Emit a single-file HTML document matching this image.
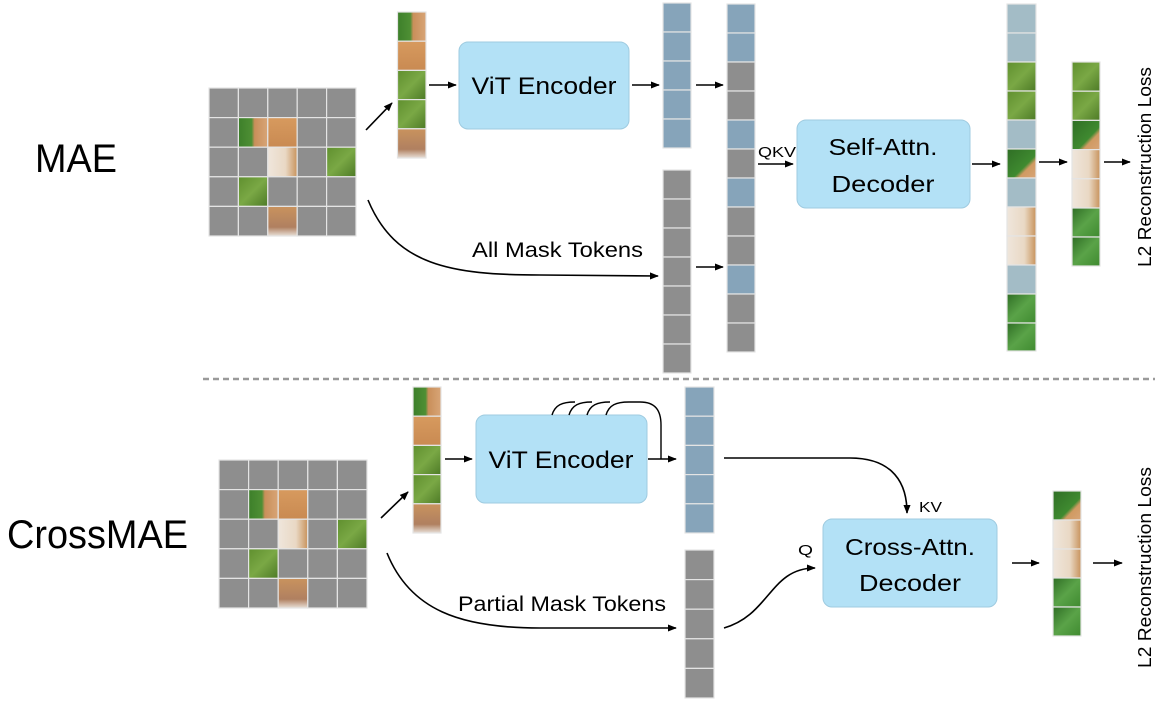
<!DOCTYPE html>
<html><head><meta charset="utf-8"><style>html,body{margin:0;padding:0;background:#fff}svg{display:block}</style></head>
<body>
<svg width="1168" height="711" viewBox="0 0 1168 711" xmlns="http://www.w3.org/2000/svg" font-family="Liberation Sans, sans-serif">
<defs>
<linearGradient id="grass" x1="0" y1="0" x2="1" y2="1"><stop offset="0" stop-color="#5f8f2e"/><stop offset="0.5" stop-color="#7aa845"/><stop offset="1" stop-color="#4d7a26"/></linearGradient>
<linearGradient id="dk" x1="0" y1="0" x2="1" y2="1"><stop offset="0" stop-color="#2f6e25"/><stop offset="0.5" stop-color="#5aa348"/><stop offset="1" stop-color="#3f8a30"/></linearGradient>
<linearGradient id="gc" x1="0" y1="0" x2="1" y2="0"><stop offset="0" stop-color="#3d7f2a"/><stop offset="0.45" stop-color="#4e8f34"/><stop offset="0.55" stop-color="#c98f5a"/><stop offset="1" stop-color="#d8a577"/></linearGradient>
<linearGradient id="cat" x1="0" y1="0" x2="0" y2="1"><stop offset="0" stop-color="#d79a5e"/><stop offset="1" stop-color="#c98a52"/></linearGradient>
<linearGradient id="catw" x1="0" y1="0" x2="1" y2="0"><stop offset="0" stop-color="#efe6dc"/><stop offset="0.6" stop-color="#e9d8c4"/><stop offset="1" stop-color="#c8935c"/></linearGradient>
<linearGradient id="paw" x1="0" y1="0" x2="0" y2="1"><stop offset="0" stop-color="#c9935e"/><stop offset="0.7" stop-color="#b08060"/><stop offset="1" stop-color="#e8e0d8"/></linearGradient>
<linearGradient id="gcd" x1="0" y1="0" x2="1" y2="1"><stop offset="0" stop-color="#2f6e25"/><stop offset="0.6" stop-color="#3f8a30"/><stop offset="0.7" stop-color="#d09a62"/><stop offset="1" stop-color="#d8a577"/></linearGradient>
<marker id="ah" viewBox="0 0 10 10" refX="9" refY="5" markerWidth="9" markerHeight="9" orient="auto-start-reverse" markerUnits="userSpaceOnUse"><path d="M0,1 L10,5 L0,9 z" fill="#000"/></marker>
</defs>
<g stroke="#e4e4e4" stroke-width="1.2">
<g fill="#8e8e8e">
<rect x="209" y="88" width="29.4" height="29.6"/><rect x="238.4" y="88" width="29.4" height="29.6"/><rect x="267.8" y="88" width="29.4" height="29.6"/><rect x="297.2" y="88" width="29.4" height="29.6"/><rect x="326.6" y="88" width="29.4" height="29.6"/>
<rect x="209" y="117.6" width="29.4" height="29.6"/><rect x="238.4" y="117.6" width="29.4" height="29.6" fill="url(#gc)"/><rect x="267.8" y="117.6" width="29.4" height="29.6" fill="url(#cat)"/><rect x="297.2" y="117.6" width="29.4" height="29.6"/><rect x="326.6" y="117.6" width="29.4" height="29.6"/>
<rect x="209" y="147.2" width="29.4" height="29.6"/><rect x="238.4" y="147.2" width="29.4" height="29.6"/><rect x="267.8" y="147.2" width="29.4" height="29.6" fill="url(#catw)"/><rect x="297.2" y="147.2" width="29.4" height="29.6"/><rect x="326.6" y="147.2" width="29.4" height="29.6" fill="url(#grass)"/>
<rect x="209" y="176.8" width="29.4" height="29.6"/><rect x="238.4" y="176.8" width="29.4" height="29.6" fill="url(#grass)"/><rect x="267.8" y="176.8" width="29.4" height="29.6"/><rect x="297.2" y="176.8" width="29.4" height="29.6"/><rect x="326.6" y="176.8" width="29.4" height="29.6"/>
<rect x="209" y="206.4" width="29.4" height="29.6"/><rect x="238.4" y="206.4" width="29.4" height="29.6"/><rect x="267.8" y="206.4" width="29.4" height="29.6" fill="url(#paw)"/><rect x="297.2" y="206.4" width="29.4" height="29.6"/><rect x="326.6" y="206.4" width="29.4" height="29.6"/>
</g>
<rect x="397.5" y="12" width="28.5" height="29.2" fill="url(#gc)"/><rect x="397.5" y="41.2" width="28.5" height="29.2" fill="url(#cat)"/><rect x="397.5" y="70.4" width="28.5" height="29.2" fill="url(#grass)"/><rect x="397.5" y="99.6" width="28.5" height="29.2" fill="url(#grass)"/><rect x="397.5" y="128.8" width="28.5" height="29.2" fill="url(#paw)"/>
<g fill="#86a4ba"><rect x="663" y="3" width="28" height="29"/><rect x="663" y="32" width="28" height="29"/><rect x="663" y="61" width="28" height="29"/><rect x="663" y="90" width="28" height="29"/><rect x="663" y="119" width="28" height="29"/></g>
<g fill="#8e8e8e"><rect x="663" y="170" width="28" height="29"/><rect x="663" y="199" width="28" height="29"/><rect x="663" y="228" width="28" height="29"/><rect x="663" y="257" width="28" height="29"/><rect x="663" y="286" width="28" height="29"/><rect x="663" y="315" width="28" height="29"/><rect x="663" y="344" width="28" height="29"/></g>
<rect x="727" y="4" width="28" height="29" fill="#86a4ba"/><rect x="727" y="33" width="28" height="29" fill="#86a4ba"/><rect x="727" y="62" width="28" height="29" fill="#8e8e8e"/><rect x="727" y="91" width="28" height="29" fill="#8e8e8e"/><rect x="727" y="120" width="28" height="29" fill="#86a4ba"/><rect x="727" y="149" width="28" height="29" fill="#8e8e8e"/><rect x="727" y="178" width="28" height="29" fill="#86a4ba"/><rect x="727" y="207" width="28" height="29" fill="#8e8e8e"/><rect x="727" y="236" width="28" height="29" fill="#8e8e8e"/><rect x="727" y="265" width="28" height="29" fill="#86a4ba"/><rect x="727" y="294" width="28" height="29" fill="#8e8e8e"/><rect x="727" y="323" width="28" height="29" fill="#8e8e8e"/>
<rect x="1007" y="4" width="29" height="29" fill="#a3bcc6"/><rect x="1007" y="33" width="29" height="29" fill="#a3bcc6"/><rect x="1007" y="62" width="29" height="29" fill="url(#grass)"/><rect x="1007" y="91" width="29" height="29" fill="url(#grass)"/><rect x="1007" y="120" width="29" height="29" fill="#a3bcc6"/><rect x="1007" y="149" width="29" height="29" fill="url(#gcd)"/><rect x="1007" y="178" width="29" height="29" fill="#a3bcc6"/><rect x="1007" y="207" width="29" height="29" fill="url(#catw)"/><rect x="1007" y="236" width="29" height="29" fill="url(#catw)"/><rect x="1007" y="265" width="29" height="29" fill="#a3bcc6"/><rect x="1007" y="294" width="29" height="29" fill="url(#dk)"/><rect x="1007" y="323" width="29" height="28" fill="url(#dk)"/>
<rect x="1072" y="62" width="28" height="29.2" fill="url(#grass)"/><rect x="1072" y="91.2" width="28" height="29.2" fill="url(#grass)"/><rect x="1072" y="120.4" width="28" height="29.2" fill="url(#gcd)"/><rect x="1072" y="149.6" width="28" height="29.2" fill="url(#catw)"/><rect x="1072" y="178.8" width="28" height="29.2" fill="url(#catw)"/><rect x="1072" y="208" width="28" height="29" fill="url(#dk)"/><rect x="1072" y="237" width="28" height="29" fill="url(#dk)"/>

<g fill="#8e8e8e">
<rect x="219" y="460" width="29.6" height="29.6"/><rect x="248.6" y="460" width="29.6" height="29.6"/><rect x="278.2" y="460" width="29.6" height="29.6"/><rect x="307.8" y="460" width="29.6" height="29.6"/><rect x="337.4" y="460" width="29.6" height="29.6"/>
<rect x="219" y="489.6" width="29.6" height="29.6"/><rect x="248.6" y="489.6" width="29.6" height="29.6" fill="url(#gc)"/><rect x="278.2" y="489.6" width="29.6" height="29.6" fill="url(#cat)"/><rect x="307.8" y="489.6" width="29.6" height="29.6"/><rect x="337.4" y="489.6" width="29.6" height="29.6"/>
<rect x="219" y="519.2" width="29.6" height="29.6"/><rect x="248.6" y="519.2" width="29.6" height="29.6"/><rect x="278.2" y="519.2" width="29.6" height="29.6" fill="url(#catw)"/><rect x="307.8" y="519.2" width="29.6" height="29.6"/><rect x="337.4" y="519.2" width="29.6" height="29.6" fill="url(#grass)"/>
<rect x="219" y="548.8" width="29.6" height="29.6"/><rect x="248.6" y="548.8" width="29.6" height="29.6" fill="url(#grass)"/><rect x="278.2" y="548.8" width="29.6" height="29.6"/><rect x="307.8" y="548.8" width="29.6" height="29.6"/><rect x="337.4" y="548.8" width="29.6" height="29.6"/>
<rect x="219" y="578.4" width="29.6" height="29.6"/><rect x="248.6" y="578.4" width="29.6" height="29.6"/><rect x="278.2" y="578.4" width="29.6" height="29.6" fill="url(#paw)"/><rect x="307.8" y="578.4" width="29.6" height="29.6"/><rect x="337.4" y="578.4" width="29.6" height="29.6"/>
</g>
<rect x="413" y="387" width="28" height="29.2" fill="url(#gc)"/><rect x="413" y="416.2" width="28" height="29.2" fill="url(#cat)"/><rect x="413" y="445.4" width="28" height="29.2" fill="url(#grass)"/><rect x="413" y="474.6" width="28" height="29.2" fill="url(#grass)"/><rect x="413" y="503.8" width="28" height="29.2" fill="url(#paw)"/>
<g fill="#86a4ba"><rect x="685" y="387" width="29" height="29.2"/><rect x="685" y="416.2" width="29" height="29.2"/><rect x="685" y="445.4" width="29" height="29.2"/><rect x="685" y="474.6" width="29" height="29.2"/><rect x="685" y="503.8" width="29" height="29.2"/></g>
<g fill="#8e8e8e"><rect x="685" y="550" width="29" height="29.6"/><rect x="685" y="579.6" width="29" height="29.6"/><rect x="685" y="609.2" width="29" height="29.6"/><rect x="685" y="638.8" width="29" height="29.6"/><rect x="685" y="668.4" width="29" height="29.6"/></g>
<rect x="1053" y="491" width="28" height="29" fill="url(#gcd)"/><rect x="1053" y="520" width="28" height="29" fill="url(#catw)"/><rect x="1053" y="549" width="28" height="29" fill="url(#catw)"/><rect x="1053" y="578" width="28" height="29" fill="url(#dk)"/><rect x="1053" y="607" width="28" height="29" fill="url(#dk)"/>
</g>

<g fill="#b3e1f6" stroke="#9fcbe0" stroke-width="1">
<rect x="459" y="42" width="170" height="87" rx="9"/>
<rect x="797" y="120" width="173" height="88" rx="9"/>
<rect x="476" y="415" width="171" height="88" rx="9"/>
<rect x="823" y="519" width="174" height="88" rx="9"/>
</g>

<line x1="203" y1="379" x2="1155" y2="379" stroke="#9a9a9a" stroke-width="2.5" stroke-dasharray="6,4"/>

<g stroke="#000" stroke-width="1.6" fill="none" marker-end="url(#ah)">
<line x1="366" y1="130" x2="392" y2="103"/>
<line x1="429" y1="85" x2="456" y2="85"/>
<line x1="632" y1="85" x2="659" y2="85"/>
<line x1="696" y1="85" x2="723" y2="85"/>
<line x1="696" y1="267" x2="723" y2="267"/>
<path d="M368,200 C395,265 450,275 540,275 L658,276"/>
<line x1="758" y1="164" x2="793" y2="164"/>
<line x1="972" y1="164" x2="1000" y2="164"/>
<line x1="1039" y1="162" x2="1067" y2="162"/>
<line x1="1104" y1="162" x2="1130" y2="162"/>
<line x1="381" y1="518" x2="408" y2="492"/>
<line x1="445" y1="459" x2="472" y2="459"/>
<line x1="648" y1="459" x2="676" y2="459"/>
<path d="M387,553 C410,610 460,628 540,628 L676,628"/>
<path d="M724,458 L850,458 C885,458 907,475 907,513"/>
<path d="M724,628 C770,615 770,568 815,568"/>
<line x1="1012" y1="563" x2="1039" y2="563"/>
<line x1="1093" y1="563" x2="1122" y2="563"/>
</g>
<g stroke="#000" stroke-width="1.4" fill="none">
<path d="M552,415 C555,405 562,402 575,402"/>
<path d="M569,415 C572,405 579,402 592,402"/>
<path d="M587,415 C590,405 597,402 610,402"/>
<path d="M606,415 C609,405 616,402 629,402 L640,402 C655,402 661,410 661,425 L661,459"/>
</g>

<g fill="#000">
<text x="35" y="172" font-size="40" textLength="82" lengthAdjust="spacingAndGlyphs">MAE</text>
<text x="7" y="548" font-size="40" textLength="181" lengthAdjust="spacingAndGlyphs">CrossMAE</text>
<text x="544" y="94" font-size="24" text-anchor="middle" textLength="145" lengthAdjust="spacingAndGlyphs">ViT Encoder</text>
<text x="561" y="468" font-size="24" text-anchor="middle" textLength="145" lengthAdjust="spacingAndGlyphs">ViT Encoder</text>
<text x="883" y="155" font-size="23" text-anchor="middle" textLength="109" lengthAdjust="spacingAndGlyphs">Self-Attn.</text>
<text x="883" y="192" font-size="23" text-anchor="middle" textLength="103" lengthAdjust="spacingAndGlyphs">Decoder</text>
<text x="910" y="555" font-size="23" text-anchor="middle" textLength="130" lengthAdjust="spacingAndGlyphs">Cross-Attn.</text>
<text x="910" y="591" font-size="23" text-anchor="middle" textLength="102" lengthAdjust="spacingAndGlyphs">Decoder</text>
<text x="472" y="257" font-size="21" textLength="171" lengthAdjust="spacingAndGlyphs">All Mask Tokens</text>
<text x="458" y="611" font-size="21" textLength="208" lengthAdjust="spacingAndGlyphs">Partial Mask Tokens</text>
<text x="758" y="157" font-size="15" textLength="38" lengthAdjust="spacingAndGlyphs">QKV</text>
<text x="919" y="512" font-size="15" textLength="23" lengthAdjust="spacingAndGlyphs">KV</text>
<text x="798" y="555" font-size="15" textLength="15" lengthAdjust="spacingAndGlyphs">Q</text>
<text transform="translate(1151,267) rotate(-90)" font-size="18" textLength="200" lengthAdjust="spacingAndGlyphs">L2 Reconstruction Loss</text>
<text transform="translate(1151,668) rotate(-90)" font-size="18" textLength="201" lengthAdjust="spacingAndGlyphs">L2 Reconstruction Loss</text>
</g>
</svg>
</body></html>
